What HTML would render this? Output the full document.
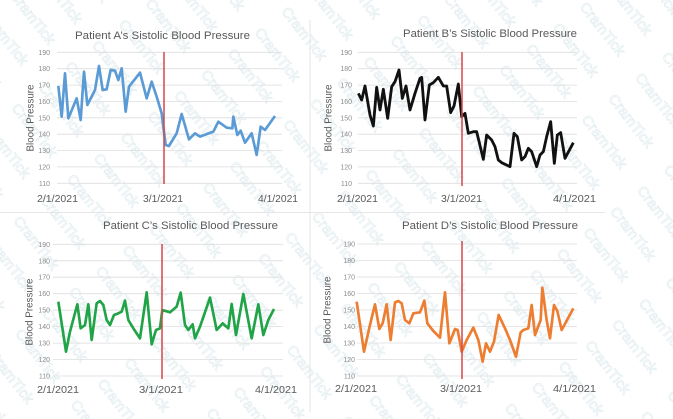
<!DOCTYPE html>
<html><head><meta charset="utf-8"><style>
html,body{margin:0;padding:0;background:#fff;}
svg{display:block;font-family:"Liberation Sans",Arial,sans-serif;}
.t{font-size:11.4px;fill:#595959;}
.tk{font-size:7px;fill:#8c8c8c;text-anchor:end;}
.xl{font-size:10.5px;fill:#595959;}
.yl{font-size:9.8px;fill:#595959;}
.g line{stroke:#dedede;stroke-width:0.8;}
</style></head><body>
<svg width="673" height="419" viewBox="0 0 673 419" xmlns="http://www.w3.org/2000/svg">
<defs>
<pattern id="wm" width="90" height="34" patternUnits="userSpaceOnUse" patternTransform="rotate(52)">
<text x="2" y="24" font-size="15" fill="none" stroke="#dce9ed" stroke-width="0.6" font-family="Liberation Sans, sans-serif">CramTick</text>
</pattern>
</defs>
<rect width="673" height="419" fill="#fff"/>
<!-- watermark -->
<rect width="673" height="419" fill="url(#wm)"/>
<!-- panel borders -->
<line x1="310" y1="20" x2="310" y2="412" stroke="#e6e6e6" stroke-width="1"/>
<line x1="0" y1="212.5" x2="605" y2="212.5" stroke="#e6e6e6" stroke-width="1"/>

<!-- ===== Chart A ===== -->
<g class="g">
<line x1="57" x2="282" y1="52.3" y2="52.3"/><line x1="57" x2="282" y1="68.7" y2="68.7"/><line x1="57" x2="282" y1="85.1" y2="85.1"/><line x1="57" x2="282" y1="101.4" y2="101.4"/><line x1="57" x2="282" y1="117.8" y2="117.8"/><line x1="57" x2="282" y1="134.2" y2="134.2"/><line x1="57" x2="282" y1="150.6" y2="150.6"/><line x1="57" x2="282" y1="166.9" y2="166.9"/><line x1="57" x2="282" y1="183.3" y2="183.3"/>
</g>
<g class="tk">
<text x="50" y="54.8">190</text><text x="50" y="71.2">180</text><text x="50" y="87.6">170</text><text x="50" y="103.9">160</text><text x="50" y="120.3">150</text><text x="50" y="136.7">140</text><text x="50" y="153.1">130</text><text x="50" y="169.4">120</text><text x="50" y="185.8">110</text>
</g>
<text class="t" x="75" y="39" textLength="175" lengthAdjust="spacingAndGlyphs">Patient A’s Sistolic Blood Pressure</text>
<text class="yl" transform="translate(33.5,118) rotate(-90)" text-anchor="middle">Blood Pressure</text>
<text class="xl" x="37" y="202" textLength="41" lengthAdjust="spacingAndGlyphs">2/1/2021</text>
<text class="xl" x="143" y="202" textLength="40" lengthAdjust="spacingAndGlyphs">3/1/2021</text>
<text class="xl" x="258" y="202" textLength="40" lengthAdjust="spacingAndGlyphs">4/1/2021</text>
<g transform="scale(0.33333)">
<polyline fill="none" stroke="#5b9bd5" stroke-width="8" stroke-linejoin="round" points="175,258 185,350 195,220 205,355 230,295 242,360 252,215 262,315 285,270 297,198 308,270 320,268 332,210 345,212 355,240 365,205 377,335 387,260 420,218 440,295 455,245 470,290 485,340 490,380 497,435 507,438 530,400 545,342 567,418 585,400 600,410 640,395 655,365 680,383 697,385 700,350 712,405 722,392 735,428 755,400 770,465 782,380 795,390 825,348"/>
</g>
<line x1="164" y1="52" x2="164" y2="184" stroke="#d6474a" stroke-width="1.5"/>

<!-- ===== Chart B ===== -->
<g class="g">
<line x1="358" x2="577" y1="52.3" y2="52.3"/><line x1="358" x2="577" y1="68.7" y2="68.7"/><line x1="358" x2="577" y1="85.1" y2="85.1"/><line x1="358" x2="577" y1="101.4" y2="101.4"/><line x1="358" x2="577" y1="117.8" y2="117.8"/><line x1="358" x2="577" y1="134.2" y2="134.2"/><line x1="358" x2="577" y1="150.6" y2="150.6"/><line x1="358" x2="577" y1="166.9" y2="166.9"/><line x1="358" x2="577" y1="183.3" y2="183.3"/>
</g>
<g class="tk">
<text x="352" y="54.8">190</text><text x="352" y="71.2">180</text><text x="352" y="87.6">170</text><text x="352" y="103.9">160</text><text x="352" y="120.3">150</text><text x="352" y="136.7">140</text><text x="352" y="153.1">130</text><text x="352" y="169.4">120</text><text x="352" y="185.8">110</text>
</g>
<text class="t" x="403" y="37" textLength="174" lengthAdjust="spacingAndGlyphs">Patient B’s Sistolic Blood Pressure</text>
<text class="yl" transform="translate(331.5,118) rotate(-90)" text-anchor="middle">Blood Pressure</text>
<text class="xl" x="337" y="202" textLength="41" lengthAdjust="spacingAndGlyphs">2/1/2021</text>
<text class="xl" x="441" y="202" textLength="41" lengthAdjust="spacingAndGlyphs">3/1/2021</text>
<text class="xl" x="553" y="202" textLength="43" lengthAdjust="spacingAndGlyphs">4/1/2021</text>
<g transform="translate(310,0) scale(0.33333)">
<polyline fill="none" stroke="#111" stroke-width="8.5" stroke-linejoin="round" points="145,280 155,300 165,258 180,345 190,378 200,262 210,330 220,268 233,355 245,260 255,245 267,210 277,295 288,258 300,330 315,280 330,235 335,232 345,360 358,255 370,248 385,232 400,258 410,258 422,338 432,318 445,252 455,350 465,340 475,400 490,395 500,395 520,478 530,405 545,420 555,440 565,480 575,488 600,500 612,400 622,410 635,480 645,470 655,445 665,455 680,500 690,465 700,455 710,410 722,365 733,490 742,405 752,398 765,475 790,428"/>
</g>
<line x1="462" y1="52" x2="462" y2="186" stroke="#d6474a" stroke-width="1.5"/>

<!-- ===== Chart C ===== -->
<g class="g">
<line x1="53" x2="283" y1="244.3" y2="244.3"/><line x1="53" x2="283" y1="260.8" y2="260.8"/><line x1="53" x2="283" y1="277.2" y2="277.2"/><line x1="53" x2="283" y1="293.7" y2="293.7"/><line x1="53" x2="283" y1="310.2" y2="310.2"/><line x1="53" x2="283" y1="326.6" y2="326.6"/><line x1="53" x2="283" y1="343.1" y2="343.1"/><line x1="53" x2="283" y1="359.5" y2="359.5"/><line x1="53" x2="283" y1="376" y2="376"/>
</g>
<g class="tk">
<text x="50" y="246.8">190</text><text x="50" y="263.3">180</text><text x="50" y="279.7">170</text><text x="50" y="296.2">160</text><text x="50" y="312.7">150</text><text x="50" y="329.1">140</text><text x="50" y="345.6">130</text><text x="50" y="362">120</text><text x="50" y="378.5">110</text>
</g>
<text class="t" x="103" y="229" textLength="175" lengthAdjust="spacingAndGlyphs">Patient C’s Sistolic Blood Pressure</text>
<text class="yl" transform="translate(32.5,312) rotate(-90)" text-anchor="middle">Blood Pressure</text>
<text class="xl" x="37" y="393" textLength="42" lengthAdjust="spacingAndGlyphs">2/1/2021</text>
<text class="xl" x="139" y="393" textLength="44" lengthAdjust="spacingAndGlyphs">3/1/2021</text>
<text class="xl" x="255" y="393" textLength="42" lengthAdjust="spacingAndGlyphs">4/1/2021</text>
<g transform="translate(0,205) scale(0.33333)">
<polyline fill="none" stroke="#21a447" stroke-width="8" stroke-linejoin="round" points="175,290 198,440 210,380 232,298 242,370 255,360 265,298 275,405 290,295 300,288 310,300 320,345 330,360 342,330 355,325 365,320 375,287 385,345 400,370 420,400 440,262 455,418 468,375 480,370 487,315 510,322 530,305 542,263 555,360 565,375 578,358 585,400 600,365 630,278 650,375 668,355 685,370 695,297 708,390 730,267 755,400 775,298 790,390 805,345 822,312"/>
</g>
<line x1="162" y1="244" x2="162" y2="379" stroke="#d6474a" stroke-width="1.5"/>

<!-- ===== Chart D ===== -->
<g class="g">
<line x1="357" x2="577" y1="244" y2="244"/><line x1="357" x2="577" y1="260.5" y2="260.5"/><line x1="357" x2="577" y1="277" y2="277"/><line x1="357" x2="577" y1="293.5" y2="293.5"/><line x1="357" x2="577" y1="310" y2="310"/><line x1="357" x2="577" y1="326.5" y2="326.5"/><line x1="357" x2="577" y1="343" y2="343"/><line x1="357" x2="577" y1="359.5" y2="359.5"/><line x1="357" x2="577" y1="376" y2="376"/>
</g>
<g class="tk">
<text x="355" y="246.5">190</text><text x="355" y="263">180</text><text x="355" y="279.5">170</text><text x="355" y="296">160</text><text x="355" y="312.5">150</text><text x="355" y="329">140</text><text x="355" y="345.5">130</text><text x="355" y="362">120</text><text x="355" y="378.5">110</text>
</g>
<text class="t" x="402" y="229" textLength="176" lengthAdjust="spacingAndGlyphs">Patient D’s Sistolic Blood Pressure</text>
<text class="yl" transform="translate(330.5,310) rotate(-90)" text-anchor="middle">Blood Pressure</text>
<text class="xl" x="335" y="392" textLength="42" lengthAdjust="spacingAndGlyphs">2/1/2021</text>
<text class="xl" x="440" y="392" textLength="42" lengthAdjust="spacingAndGlyphs">3/1/2021</text>
<text class="xl" x="553" y="392" textLength="43" lengthAdjust="spacingAndGlyphs">4/1/2021</text>
<g transform="translate(310,205) scale(0.33333)">
<polyline fill="none" stroke="#ed7d31" stroke-width="8" stroke-linejoin="round" points="140,290 162,440 178,368 195,298 208,372 218,355 230,298 242,405 255,292 265,288 275,295 285,345 298,355 310,325 330,322 343,287 352,355 370,378 390,398 405,262 418,415 435,372 443,375 455,440 470,405 490,368 505,405 518,470 528,415 540,440 552,410 566,330 585,370 600,405 618,455 632,382 640,375 655,370 665,300 675,390 692,345 697,248 710,345 720,400 732,300 742,318 755,375 790,310"/>
</g>
<line x1="462" y1="241" x2="462" y2="379" stroke="#d6474a" stroke-width="1.5"/>
</svg>
</body></html>
